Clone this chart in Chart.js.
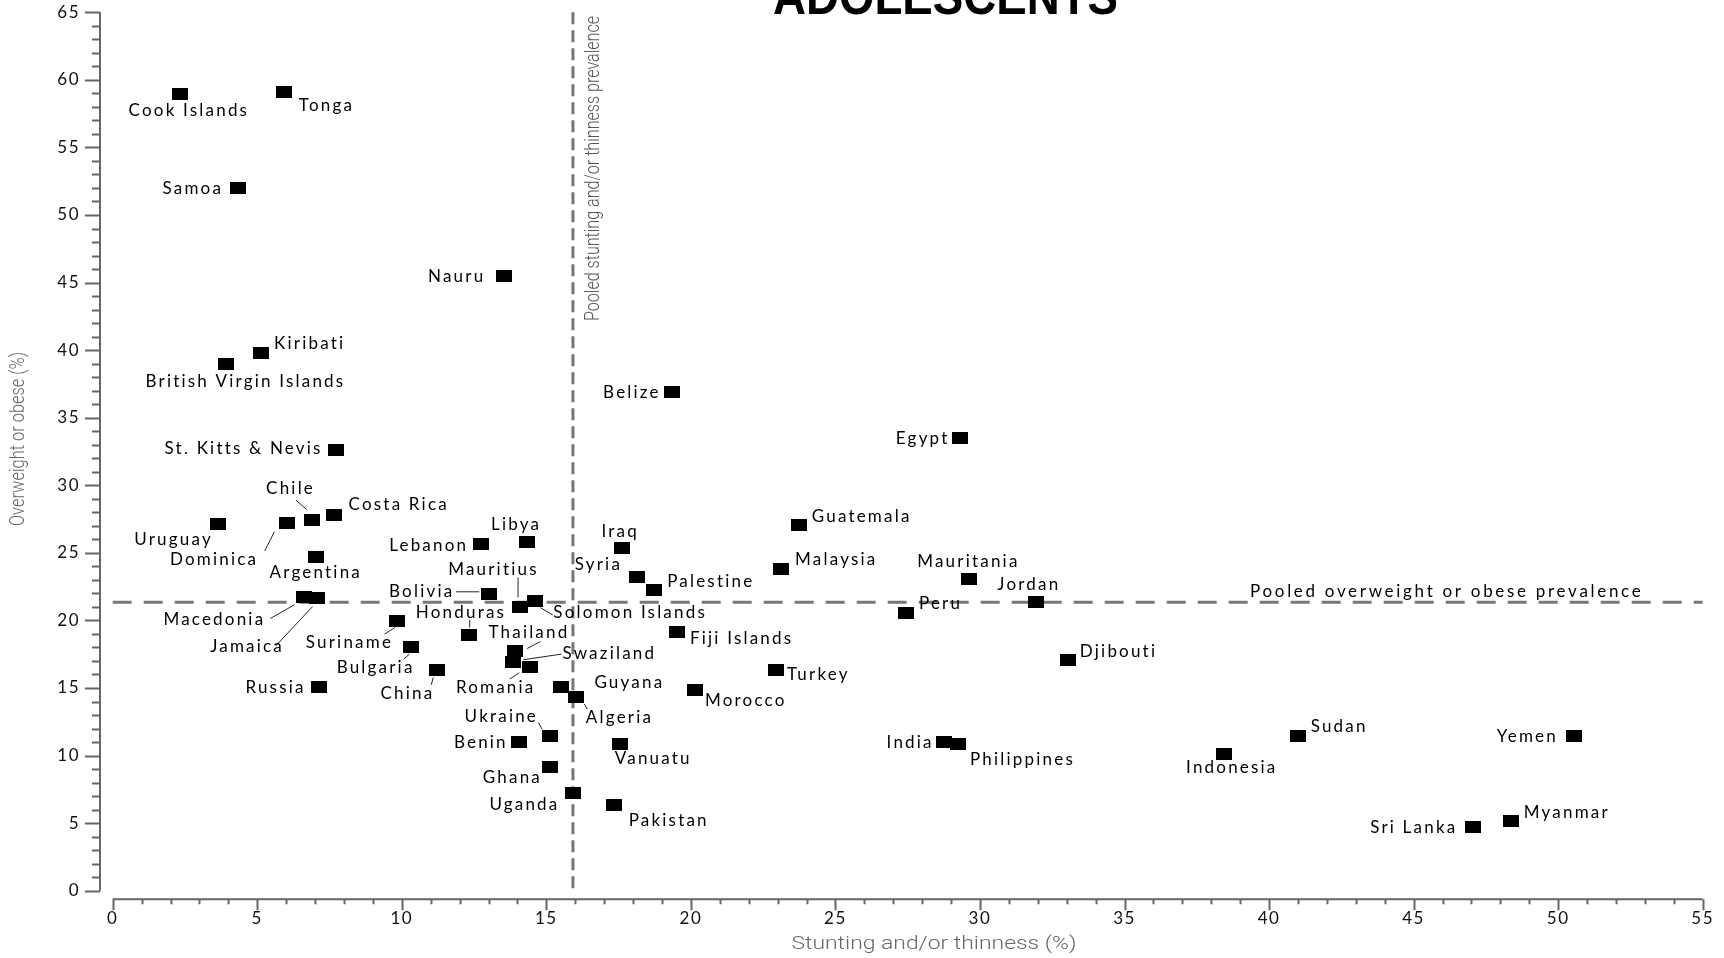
<!DOCTYPE html>
<html>
<head>
<meta charset="utf-8">
<script src="https://cdn.jsdelivr.net/npm/chart.js@4"></script>
<style>
  html, body { margin: 0; padding: 0; background: #fff; }
  #wrap { width: 1724px; height: 958px; position: relative; }
</style>
</head>
<body>
<div id="wrap"><canvas id="scatterChart"></canvas></div>
<script>
// values
const countries = ['Cook Islands', 'Tonga', 'Samoa', 'Nauru', 'Kiribati', 'British Virgin Islands',
  'St. Kitts & Nevis', 'Belize', 'Egypt', 'Uruguay', 'Dominica', 'Chile', 'Costa Rica', 'Argentina',
  'Macedonia', 'Jamaica', 'Russia', 'Suriname', 'Bulgaria', 'China', 'Honduras', 'Thailand', 'Swaziland',
  'Romania', 'Bolivia', 'Mauritius', 'Solomon Islands', 'Lebanon', 'Libya', 'Guyana', 'Algeria', 'Ukraine',
  'Benin', 'Ghana', 'Uganda', 'Iraq', 'Syria', 'Palestine', 'Guatemala', 'Malaysia', 'Mauritania', 'Jordan',
  'Peru', 'Fiji Islands', 'Djibouti', 'Turkey', 'Morocco', 'Vanuatu', 'India', 'Philippines', 'Pakistan',
  'Sudan', 'Indonesia', 'Yemen', 'Sri Lanka', 'Myanmar'];
const stunting = [2.32, 5.92, 4.33, 13.54, 5.13, 3.93,
  7.74, 19.33, 29.32, 3.63, 6.03, 6.91, 7.64, 7.02,
  6.62, 7.06, 7.15, 9.83, 10.33, 11.22, 12.32, 13.91, 13.83,
  14.42, 13.02, 14.1, 14.62, 12.74, 14.33, 15.52, 16.02, 15.12,
  14.04, 15.12, 15.93, 17.62, 18.13, 18.73, 23.73, 23.12, 29.63, 31.93,
  27.44, 19.52, 33.04, 22.94, 20.14, 17.54, 28.74, 29.24, 17.33,
  40.99, 38.43, 50.54, 47.06, 48.36];
const overweight = [58.92, 59.12, 52.02, 45.52, 39.76, 38.96,
  32.63, 36.92, 33.52, 27.12, 27.22, 27.44, 27.79, 24.73,
  21.75, 21.65, 15.04, 19.95, 18.05, 16.35, 18.93, 17.75, 16.94,
  16.52, 21.97, 21.03, 21.42, 25.64, 25.84, 15.11, 14.35, 11.46,
  11.02, 9.17, 7.22, 25.35, 23.25, 22.26, 27.07, 23.77, 23.05, 21.38,
  20.56, 19.16, 17.06, 16.35, 14.84, 10.82, 11.02, 10.85, 6.36,
  11.44, 10.13, 11.44, 4.73, 5.13];
const xTickValues = [0, 5, 10, 15, 20, 25, 30, 35, 40, 45, 50, 55];
const yTickValues = [0, 5, 10, 15, 20, 25, 30, 35, 40, 45, 50, 55, 60, 65];
const pooledStunting = 15.92;
const pooledOverweight = 21.35;

const chartTitle = 'ADOLESCENTS';
const xTitle = 'Stunting and/or thinness (%)';
const yTitle = 'Overweight or obese (%)';
const vLineLabel = 'Pooled stunting and/or thinness prevalence';
const hLineLabel = 'Pooled overweight or obese prevalence';

// label placement: align, dx, dy (px from the marker centre to the text baseline)
const labelPos = {
  'Cook Islands': ['center', 8, 22], 'Tonga': ['left', 15, 19], 'Samoa': ['right', -17, 6],
  'Nauru': ['right', -21, 6], 'Kiribati': ['left', 13, -4], 'British Virgin Islands': ['center', 18, 23],
  'St. Kitts & Nevis': ['right', -16, 4], 'Belize': ['right', -13, 6], 'Egypt': ['right', -13, 6],
  'Uruguay': ['right', -7, 21], 'Dominica': ['right', -31, 42], 'Chile': ['center', -23, -26],
  'Costa Rica': ['left', 15, -5], 'Argentina': ['center', -1, 21], 'Macedonia': ['right', -41, 28],
  'Jamaica': ['right', -35, 54], 'Russia': ['right', -16, 6], 'Suriname': ['right', -6, 27],
  'Bulgaria': ['right', 1, 26], 'China': ['right', -5, 29], 'Honduras': ['center', -9, -17],
  'Thailand': ['center', 13, -13], 'Swaziland': ['left', 50, -3], 'Romania': ['center', -35, 26],
  'Bolivia': ['right', -37, 3], 'Mauritius': ['center', -28, -32], 'Solomon Islands': ['left', 18, 17],
  'Lebanon': ['right', -15, 7], 'Libya': ['center', -12, -12], 'Guyana': ['left', 33, 1],
  'Algeria': ['left', 10, 26], 'Ukraine': ['right', -14, -14], 'Benin': ['right', -13, 6],
  'Ghana': ['right', -10, 16], 'Uganda': ['right', -16, 17], 'Iraq': ['center', -3, -11],
  'Syria': ['right', -17, -7], 'Palestine': ['left', 13, -3], 'Guatemala': ['left', 13, -3],
  'Malaysia': ['left', 14, -4], 'Mauritania': ['center', -2, -12], 'Jordan': ['center', -8, -12],
  'Peru': ['left', 13, -4], 'Fiji Islands': ['left', 13, 12], 'Djibouti': ['left', 12, -3],
  'Turkey': ['left', 11, 10], 'Morocco': ['left', 10, 16], 'Vanuatu': ['left', -5, 20],
  'India': ['right', -12, 6], 'Philippines': ['left', 12, 21], 'Pakistan': ['left', 15, 21],
  'Sudan': ['left', 13, -4], 'Indonesia': ['center', 7, 19], 'Yemen': ['right', -18, 6],
  'Sri Lanka': ['right', -18, 6], 'Myanmar': ['left', 13, -3]
};
// leader lines, px from marker centre
const leaders = {
  'Chile': [-16.5, -19.7, -5.7, -10.3], 'Dominica': [-22.3, 28, -12.7, 9],
  'Macedonia': [-33.7, 21.7, -9.6, 8], 'Jamaica': [-41.3, 48, -4.2, 8.4],
  'Suriname': [-12.3, 13, -1.9, 6.4], 'Bulgaria': [-7.6, 12.3, -1.9, 7.3],
  'China': [-5.8, 15, -3.8, 7.7], 'Mauritius': [-2.3, -29, -2.3, -9],
  'Bolivia': [-32.9, -2, -9.9, -2], 'Honduras': [0.8, -15, 0.8, -7.3],
  'Solomon Islands': [5, 6.4, 17.3, 13.7], 'Thailand': [25.6, -9.3, 12.2, -2.3],
  'Swaziland': [49, -7.7, 10.7, -2], 'Romania': [-19.9, 11.6, -10.3, 5.3],
  'Algeria': [8.4, 7.3, 11.5, 12.3], 'Ukraine': [-11.5, -13.3, -7.7, -6.7]
};

const LABEL_FONT = '17px Lato';
const LABEL_SPACING = 2.2;

// 16x12 filled rectangle used as the point style
const marker = document.createElement('canvas');
marker.width = 16;
marker.height = 12;
const mctx = marker.getContext('2d');
mctx.fillStyle = '#000';
mctx.fillRect(0, 0, 16, 12);

function fitText(ctx, text, x, y, width) {
  const w = ctx.measureText(text).width;
  ctx.save();
  ctx.translate(x, y);
  ctx.scale(width / w, 1);
  ctx.textAlign = 'center';
  ctx.fillText(text, 0, 0);
  ctx.restore();
}

const axesPlugin = {
  id: 'axesAndLines',
  beforeDraw(chart) {
    // tick labels drawn by Chart.js pick this up
    chart.ctx.letterSpacing = '1.5px';
  },
  beforeDatasetsDraw(chart) {
    const ctx = chart.ctx;
    const xs = chart.scales.x, ys = chart.scales.y;
    const area = chart.chartArea;
    ctx.save();
    ctx.strokeStyle = '#666';
    ctx.lineWidth = 2;
    // y axis + ticks
    ctx.beginPath();
    ctx.moveTo(area.left, ys.getPixelForValue(0));
    ctx.lineTo(area.left, ys.getPixelForValue(65));
    for (let v = 0; v <= 65; v++) {
      const py = Math.round(ys.getPixelForValue(v)) + 0.5;
      const len = v % 5 === 0 ? 15 : 8;
      ctx.moveTo(area.left, py);
      ctx.lineTo(area.left - len, py);
    }
    ctx.stroke();
    // x axis + ticks
    ctx.beginPath();
    ctx.moveTo(xs.getPixelForValue(0), area.bottom);
    ctx.lineTo(xs.getPixelForValue(55), area.bottom);
    for (let v = 0; v <= 55; v++) {
      const px = Math.round(xs.getPixelForValue(v)) + 0.5;
      const len = v % 5 === 0 ? 11 : 5;
      ctx.moveTo(px, area.bottom);
      ctx.lineTo(px, area.bottom + len);
    }
    ctx.stroke();

    // pooled prevalence lines
    ctx.strokeStyle = '#777';
    ctx.lineWidth = 3;
    ctx.setLineDash([19, 12]);
    const hy = ys.getPixelForValue(pooledOverweight);
    ctx.beginPath();
    ctx.moveTo(xs.getPixelForValue(0), hy);
    ctx.lineTo(xs.getPixelForValue(55), hy);
    ctx.stroke();
    ctx.setLineDash([12, 6]);
    const vx = xs.getPixelForValue(pooledStunting);
    ctx.beginPath();
    ctx.moveTo(vx, ys.getPixelForValue(65));
    ctx.lineTo(vx, ys.getPixelForValue(0));
    ctx.stroke();
    ctx.setLineDash([]);
    ctx.restore();
  },
  afterDatasetsDraw(chart) {
    const ctx = chart.ctx;
    const xs = chart.scales.x, ys = chart.scales.y;
    const meta = chart.getDatasetMeta(0);
    ctx.save();
    // leader lines
    ctx.strokeStyle = '#222';
    ctx.lineWidth = 1;
    ctx.beginPath();
    meta.data.forEach((pt, i) => {
      const l = leaders[countries[i]];
      if (!l) return;
      ctx.moveTo(pt.x + l[0], pt.y + l[1]);
      ctx.lineTo(pt.x + l[2], pt.y + l[3]);
    });
    ctx.stroke();
    // country labels
    ctx.font = LABEL_FONT;
    ctx.letterSpacing = LABEL_SPACING + 'px';
    ctx.fillStyle = '#000';
    ctx.textBaseline = 'alphabetic';
    meta.data.forEach((pt, i) => {
      const p = labelPos[countries[i]];
      const shift = p[0] === 'right' ? LABEL_SPACING : p[0] === 'center' ? LABEL_SPACING / 2 : 0;
      ctx.textAlign = p[0];
      ctx.fillText(countries[i], pt.x + p[1] + shift, pt.y + p[2]);
    });
    // horizontal line label
    ctx.textAlign = 'left';
    ctx.letterSpacing = '2.7px';
    ctx.fillText(hLineLabel, xs.getPixelForValue(39.34), ys.getPixelForValue(pooledOverweight) - 5);
    ctx.letterSpacing = '0px';

    // vertical line label, rotated
    ctx.fillStyle = '#555';
    ctx.font = '300 21px Roboto';
    ctx.textBaseline = 'middle';
    ctx.save();
    ctx.translate(xs.getPixelForValue(pooledStunting) + 21, 168.5);
    ctx.rotate(-Math.PI / 2);
    fitText(ctx, vLineLabel, 0, 0, 305);
    ctx.restore();

    // axis titles
    ctx.fillStyle = '#666';
    ctx.font = '300 20px Roboto';
    ctx.save();
    ctx.translate(18.5, 439);
    ctx.rotate(-Math.PI / 2);
    fitText(ctx, yTitle, 0, 0, 174);
    ctx.restore();
    ctx.textBaseline = 'alphabetic';
    ctx.font = '300 18px Roboto';
    fitText(ctx, xTitle, 934, 949.3, 285);

    // clipped title at the very top
    ctx.fillStyle = '#000';
    ctx.font = 'bold 52px "Liberation Sans"';
    fitText(ctx, chartTitle, 945.5, 14.3, 345);
    ctx.restore();
  }
};

const ctx = document.getElementById('scatterChart');
new Chart(ctx, {
  type: 'scatter',
  data: {
    datasets: [{
      label: 'Countries',
      data: countries.map((c, i) => ({ x: stunting[i], y: overweight[i] })),
      pointStyle: marker,
      pointRadius: 6,
      pointHoverRadius: 6
    }]
  },
  options: {
    responsive: true,
    maintainAspectRatio: false,
    animation: false,
    events: [],
    layout: { padding: { left: 0, right: 21.3, top: 12.3, bottom: 0 } },
    plugins: { legend: { display: false }, tooltip: { enabled: false }, title: { display: false } },
    scales: {
      x: {
        type: 'linear',
        min: -0.44,
        max: 55,
        afterBuildTicks: s => { s.ticks = xTickValues.map(v => ({ value: v })); },
        afterFit: s => { s.height = 58.7; s.paddingLeft = 0; s.paddingRight = 0; },
        grid: { display: false, drawTicks: false },
        border: { display: false },
        ticks: { padding: 9, color: '#111', font: { family: 'Lato', size: 17 }, maxRotation: 0, autoSkip: false }
      },
      y: {
        type: 'linear',
        min: -0.636,
        max: 65,
        afterBuildTicks: s => { s.ticks = yTickValues.map(v => ({ value: v })); },
        afterFit: s => { s.width = 100; s.paddingTop = 0; s.paddingBottom = 0; },
        grid: { display: false, drawTicks: false },
        border: { display: false },
        ticks: { padding: 20, color: '#111', font: { family: 'Lato', size: 17 }, autoSkip: false }
      }
    }
  },
  plugins: [axesPlugin]
});
</script>
</body>
</html>
